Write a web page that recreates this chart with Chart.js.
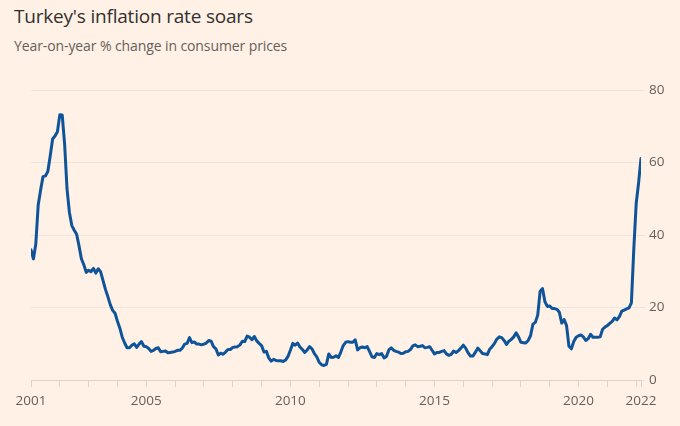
<!DOCTYPE html>
<html>
<head>
<meta charset="utf-8">
<script src="https://cdn.jsdelivr.net/npm/chart.js@4/dist/chart.umd.min.js"></script>
<style>
  html, body { margin: 0; padding: 0; background: #fff1e5; }
  #wrap { position: relative; width: 680px; height: 426px; overflow: hidden; }
  #title { position: absolute; left: 14px; top: 3px; font-family: "Open Sans", sans-serif; font-size: 19px; color: #33302e; white-space: nowrap; letter-spacing: -0.2px; }
  #subtitle { position: absolute; left: 14px; top: 36px; font-family: "Open Sans", sans-serif; font-size: 14px; color: #66605c; white-space: nowrap; letter-spacing: -0.1px; }
  canvas { position: absolute; left: 0; top: 0; }
</style>
</head>
<body>
<div id="wrap">
  <div id="title">Turkey's inflation rate soars</div>
  <div id="subtitle">Year-on-year % change in consumer prices</div>
  <canvas id="c" width="680" height="426"></canvas>
</div>
<script>
// Monthly data, Jan 2001 .. Mar 2022
const startYear = 2001;
const inflation = [
  // 2001
  35.9, 33.4, 37.5, 48.3, 52.4, 56.1, 56.3, 57.5, 61.8, 66.5, 67.3, 68.5,
  // 2002
  73.2, 73.1, 65.1, 52.7, 46.2, 42.6, 41.3, 40.2, 37.0, 33.4, 31.8, 29.7,
  // 2003
  30.3, 29.9, 30.8, 29.5, 30.7, 29.8, 27.4, 25.0, 23.0, 20.8, 19.2, 18.4,
  // 2004
  16.2, 14.3, 11.8, 10.2, 8.9, 8.9, 9.6, 10.0, 9.0, 9.9, 10.6, 9.3,
  // 2005
  9.2, 8.7, 7.9, 8.2, 8.7, 8.9, 7.8, 7.9, 8.0, 7.5, 7.6, 7.7,
  // 2006
  7.9, 8.2, 8.2, 8.8, 9.9, 10.1, 11.7, 10.3, 10.5, 9.9, 9.9, 9.7,
  // 2007
  9.9, 10.2, 10.9, 10.7, 9.2, 8.6, 6.9, 7.4, 7.1, 7.7, 8.4, 8.4,
  // 2008
  9.0, 9.1, 9.2, 9.7, 10.7, 10.6, 12.1, 11.8, 11.1, 12.0, 10.8, 10.1,
  // 2009
  9.5, 7.7, 7.9, 6.1, 5.2, 5.7, 5.4, 5.3, 5.3, 5.1, 5.5, 6.5,
  // 2010
  8.2, 10.1, 9.6, 10.2, 9.1, 8.4, 7.6, 8.3, 9.2, 8.6, 7.3, 6.4,
  // 2011
  4.9, 4.2, 4.0, 4.3, 7.2, 6.2, 6.3, 6.7, 6.2, 7.7, 9.5, 10.4,
  // 2012
  10.6, 10.4, 10.4, 11.1, 8.3, 8.9, 9.1, 8.9, 9.2, 7.8, 6.4, 6.2,
  // 2013
  7.3, 7.0, 7.3, 6.1, 6.5, 8.3, 8.9, 8.2, 7.9, 7.7, 7.3, 7.4,
  // 2014
  7.8, 7.9, 8.4, 9.4, 9.7, 9.2, 9.3, 9.5, 8.9, 9.0, 9.2, 8.2,
  // 2015
  7.2, 7.6, 7.6, 7.9, 8.1, 7.2, 6.8, 7.1, 8.0, 7.6, 8.1, 8.8,
  // 2016
  9.6, 8.8, 7.5, 6.6, 6.6, 7.6, 8.8, 8.1, 7.3, 7.2, 7.0, 8.5,
  // 2017
  9.2, 10.1, 11.3, 11.9, 11.7, 10.9, 9.8, 10.7, 11.2, 11.9, 13.0, 11.9,
  // 2018
  10.4, 10.3, 10.2, 10.9, 12.2, 15.4, 15.9, 17.9, 24.5, 25.2, 21.6, 20.3,
  // 2019
  20.4, 19.7, 19.7, 19.5, 18.7, 15.7, 16.7, 15.0, 9.3, 8.6, 10.6, 11.8,
  // 2020
  12.2, 12.4, 11.9, 10.9, 11.4, 12.6, 11.8, 11.8, 11.8, 11.9, 14.0, 14.6,
  // 2021
  15.0, 15.6, 16.2, 17.1, 16.6, 17.5, 19.0, 19.3, 19.6, 19.9, 21.3, 36.1,
  // 2022
  48.7, 54.4, 61.1
];
const tickYears = [2001,2002,2003,2004,2005,2006,2007,2008,2009,2010,2011,2012,2013,2014,2015,2016,2017,2018,2019,2020,2021,2022];
const labelledYears = [2001, 2005, 2010, 2015, 2020];
const endLabel = '2022';
const yTicks = [0, 20, 40, 60, 80];

const points = inflation.map((v, i) => ({ x: startYear + i / 12, y: v }));
const lastX = startYear + (inflation.length - 1) / 12;

const tickFont = { family: "'Open Sans', sans-serif", size: 13.5 };
const tickColor = '#66605c';

new Chart(document.getElementById('c'), {
  type: 'line',
  data: {
    datasets: [{
      data: points,
      borderColor: '#0f5499',
      borderWidth: 3,
      pointRadius: 0,
      tension: 0,
      borderJoinStyle: 'round',
      borderCapStyle: 'round',
      fill: false
    }]
  },
  options: {
    responsive: false,
    animation: false,
    events: [],
    layout: { padding: { left: 31, right: 0, top: 90, bottom: 0 } },
    plugins: { legend: { display: false }, tooltip: { enabled: false }, title: { display: false } },
    scales: {
      x: {
        type: 'linear',
        min: startYear,
        max: lastX,
        afterBuildTicks: (s) => {
          s.ticks = tickYears.map(v => ({ value: v })).concat([{ value: lastX }]);
        },
        afterFit: (s) => { s.height = 46; },
        ticks: {
          autoSkip: false,
          maxRotation: 0,
          padding: 6,
          color: tickColor,
          font: tickFont,
          callback: (v) => {
            if (Math.abs(v - lastX) < 1e-6) return endLabel;
            const y = Math.round(v);
            if (Math.abs(v - y) < 1e-6 && labelledYears.includes(y)) return String(y);
            return '';
          }
        },
        grid: {
          drawOnChartArea: false,
          drawTicks: true,
          tickLength: 7,
          color: '#ddd3ca',
          lineWidth: 1
        },
        border: { display: true, color: '#ddd3ca', width: 1 }
      },
      y: {
        position: 'right',
        min: 0,
        max: 80,
        afterBuildTicks: (s) => { s.ticks = yTicks.map(v => ({ value: v })); },
        afterFit: (s) => { s.width = 39; },
        ticks: {
          padding: 4,
          color: tickColor,
          font: tickFont
        },
        grid: {
          drawTicks: true,
          tickLength: 4,
          color: '#efe5dc',
          lineWidth: 1
        },
        border: { display: false }
      }
    }
  }
});
</script>
</body>
</html>
